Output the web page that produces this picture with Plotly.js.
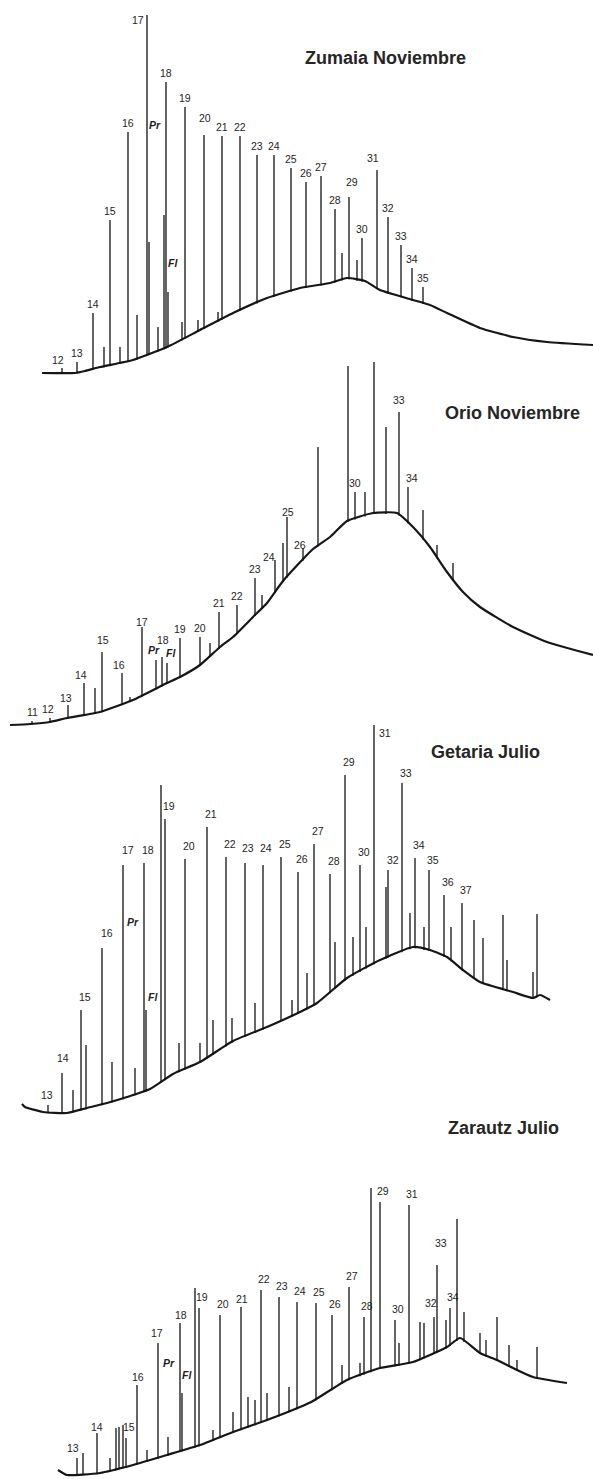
<!DOCTYPE html>
<html><head><meta charset="utf-8">
<script src="https://cdn.plot.ly/plotly-3.0.1.min.js"></script>
<style>html,body{margin:0;padding:0;background:#fff}#chart{width:593px;height:1479px}</style>
</head><body><div id="chart"></div>
<script>
// ---------------- DATA (retention position, relative intensity) ----------------
// Zumaia Noviembre
const zumaiaBaseX = [42,75,85,100,133,167,200,233,267,300,330,347,365,380,413,430,447,480,513,547,593];
const zumaiaBaseI = [7,7,9,13,20,33,50,67,82,92,97,102,99,90,80,75,67,52,43,38,35];
const zumaiaPeakX = [62,77,93,104,110,120,128,137,147,149,158,164,166,168,182,185,198,204,218,222,240,257,274,291,306,321,335,342,349,357,362,377,388,401,412,423];
const zumaiaPeakI = [12,18,67,33,160,33,248,65,365,138,53,165,298,88,58,273,60,245,68,244,244,225,225,212,198,204,171,127,183,120,142,210,163,135,112,93];
const zumaiaPeakLabel = ['12','13','14','','15','','16','','17','Pr','','','18','Fl','','19','','20','','21','22','23','24','25','26','27','28','','29','','30','31','32','33','34','35'];

// Orio Noviembre
const orioBaseX = [10,30,50,67,100,133,167,180,200,220,233,253,267,283,313,330,347,373,397,413,430,447,463,480,513,547,593];
const orioBaseI = [10,11,13,17,23,35,52,58,70,88,98,118,132,154,186,198,214,222,222,208,188,163,143,128,108,93,80];
const orioPeakX = [32,50,68,84,95,102,122,130,142,156,162,167,180,200,210,219,237,255,262,275,283,287,303,318,348,355,365,374,386,399,408,423,437,453];
const orioPeakI = [14,17,30,52,47,83,62,38,108,75,78,72,97,98,92,123,130,157,140,175,192,218,187,288,369,243,243,373,308,323,248,225,190,172];
const orioPeakLabel = ['11','12','13','14','','15','16','','17','Pr','18','Fl','19','20','','21','22','23','','24','','25','26','','','30','','','','33','34','','',''];

// Getaria Julio
const getariaBaseX = [22,25,43,67,87,107,127,150,173,200,233,267,300,317,347,380,413,430,447,463,480,513,533,540,550];
const getariaBaseI = [16,13,8,7,12,17,23,31,46,58,79,93,108,117,142,160,173,170,163,150,138,128,122,125,120];
const getariaPeakX = [48,62,73,81,86,102,112,123,135,144,146,161,165,179,185,200,207,213,226,232,245,255,263,281,292,298,307,314,330,335,345,353,360,366,374,386,388,402,410,415,424,429,444,451,462,474,483,503,507,533,537];
const getariaPeakI = [15,47,30,110,75,172,58,255,52,257,110,335,301,77,261,77,293,100,263,102,257,117,255,263,120,248,147,276,246,178,345,183,255,193,395,233,250,337,207,262,193,250,225,193,217,200,182,205,160,148,206];
const getariaPeakLabel = ['13','14','','15','','16','','17','Pr','18','Fl','','19','','20','','21','','22','','23','','24','25','','26','','27','28','','29','','30','','31','','32','33','','34','','35','36','','37','','','','','',''];

// Zarautz Julio
const zarautzBaseX = [58,67,100,133,167,200,233,267,300,313,347,380,413,447,460,480,497,513,533,567];
const zarautzBaseI = [9,4,6,14,24,34,47,59,72,78,99,111,117,132,141,126,119,111,102,96];
const zarautzPeakX = [77,83,97,110,116,119,123,126,137,147,158,168,180,182,195,199,213,220,233,241,248,255,261,267,279,289,297,316,332,342,349,360,364,371,380,395,399,409,420,424,434,437,446,450,457,464,480,486,497,509,517,537];
const zarautzPeakI = [21,26,46,21,51,52,54,41,94,29,136,42,156,86,191,171,49,164,67,172,82,79,189,86,182,92,177,176,164,114,192,116,162,291,277,159,136,274,157,156,162,214,159,171,260,167,146,139,162,134,119,132];
const zarautzPeakLabel = ['13','','14','','','','','15','16','','17','Pr','18','Fl','','19','','20','','21','','','22','','23','','24','25','26','','27','','28','','29','30','','31','','','32','33','','34','','','','','','','',''];

const panelTitles = ['Zumaia Noviembre','Orio Noviembre','Getaria Julio','Zarautz Julio'];

// ---------------- LAYOUT / STYLE ----------------
const W = 593, H = 1479;
const panels = [
  {bx: zumaiaBaseX, bi: zumaiaBaseI, px: zumaiaPeakX, pi: zumaiaPeakI, pl: zumaiaPeakLabel,
   top: 0, bottom: 380, title: [385, 58], nudge: [0, 9],
   nudges: {'17':[-9,-5], 'Pr':[6,117], 'Fl':[5,29], '20':[1,17], '29':[3,15], '31':[-4,12], '12':[-4,8]}},
  {bx: orioBaseX, bi: orioBaseI, px: orioPeakX, pi: orioPeakI, pl: orioPeakLabel,
   top: 355, bottom: 735, title: [512, 413], nudge: [0, 9],
   nudges: {'12':[-2,9], '13':[-2,7], '14':[-3,8], '15':[1,12], '16':[-3,8], '17':[0,5], 'Pr':[-2,10], '18':[1,17], 'Fl':[4,10], '24':[-6,3], '25':[1,5], '26':[-3,3], '33':[0,12], '34':[4,9]}},
  {bx: getariaBaseX, bi: getariaBaseI, px: getariaPeakX, pi: getariaPeakI, pl: getariaPeakLabel,
   top: 715, bottom: 1120, title: [485, 752], nudge: [4, 13],
   nudges: {'Pr':[-2,146], '13':[-1,10], 'Fl':[7,13], '31':[11,-8], '14':[1,15], '16':[5,15], '17':[5,15], '23':[3,15], '24':[3,17], '32':[5,10], '33':[4,10], '35':[4,10]}},
  {bx: zarautzBaseX, bi: zarautzBaseI, px: zarautzPeakX, pi: zarautzPeakI, pl: zarautzPeakLabel,
   top: 1170, bottom: 1479, title: [503, 1128], nudge: [3, 11],
   nudges: {'13':[-4,10], '14':[0,6], 'Pr':[1,74], 'Fl':[5,18], '17':[-1,10], '32':[-3,14], '33':[4,22], '16':[1,8], '18':[1,8], '21':[1,8]}}
];

function interp(xs, ys, x) {
  if (x <= xs[0]) return ys[0];
  for (let i = 1; i < xs.length; i++) {
    if (x <= xs[i]) {
      const t = (x - xs[i-1]) / (xs[i] - xs[i-1]);
      return ys[i-1] + t * (ys[i] - ys[i-1]);
    }
  }
  return ys[ys.length - 1];
}

const traces = [];
const annotations = [];
const layout = {
  width: W, height: H,
  margin: {l: 0, r: 0, t: 0, b: 0},
  paper_bgcolor: '#ffffff', plot_bgcolor: 'rgba(0,0,0,0)',
  showlegend: false,
  xaxis: {range: [0, W], visible: false, fixedrange: true, domain: [0, 1], anchor: 'free', position: 0}
};

panels.forEach((p, k) => {
  const yName = k === 0 ? 'y' : 'y' + (k + 1);
  const axKey = k === 0 ? 'yaxis' : 'yaxis' + (k + 1);
  layout[axKey] = {
    domain: [1 - p.bottom / H, 1 - p.top / H],
    range: [0, p.bottom - p.top],
    visible: false, fixedrange: true, anchor: 'x'
  };
  // baseline hump
  traces.push({
    type: 'scatter', mode: 'lines', x: p.bx, y: p.bi, xaxis: 'x', yaxis: yName,
    line: {color: '#161616', width: 2.2, shape: 'spline', smoothing: 0.5},
    hoverinfo: 'skip', cliponaxis: false
  });
  // peaks as spikes
  const sx = [], sy = [];
  p.px.forEach((x, i) => {
    const b = interp(p.bx, p.bi, x);
    sx.push(x, x, null);
    sy.push(b - 1, p.pi[i], null);
  });
  traces.push({
    type: 'scatter', mode: 'lines', x: sx, y: sy, xaxis: 'x', yaxis: yName,
    line: {color: '#111111', width: 1.3},
    hoverinfo: 'skip', cliponaxis: false, connectgaps: false
  });
  // labels
  p.pl.forEach((lab, i) => {
    if (!lab) return;
    const n = p.nudges[lab] || p.nudge;
    const italic = (lab === 'Pr' || lab === 'Fl');
    annotations.push({
      xref: 'x', yref: yName, x: p.px[i], y: p.pi[i],
      xshift: n[0], yshift: n[1],
      text: italic ? '<b><i>' + lab + '</i></b>' : lab,
      showarrow: false, xanchor: 'center', yanchor: 'middle',
      font: {family: 'Arial, Liberation Sans, sans-serif', size: 10.5, color: '#1e1e1e'}
    });
  });
  annotations.push({
    xref: 'paper', yref: 'paper', x: p.title[0] / W, y: 1 - p.title[1] / H,
    text: '<b>' + panelTitles[k] + '</b>', showarrow: false, xanchor: 'center', yanchor: 'middle',
    font: {family: 'Arial, Liberation Sans, sans-serif', size: 18, color: '#262626'}
  });
});

layout.annotations = annotations;
Plotly.newPlot('chart', traces, layout, {staticPlot: true, displayModeBar: false});
</script>
</body></html>
